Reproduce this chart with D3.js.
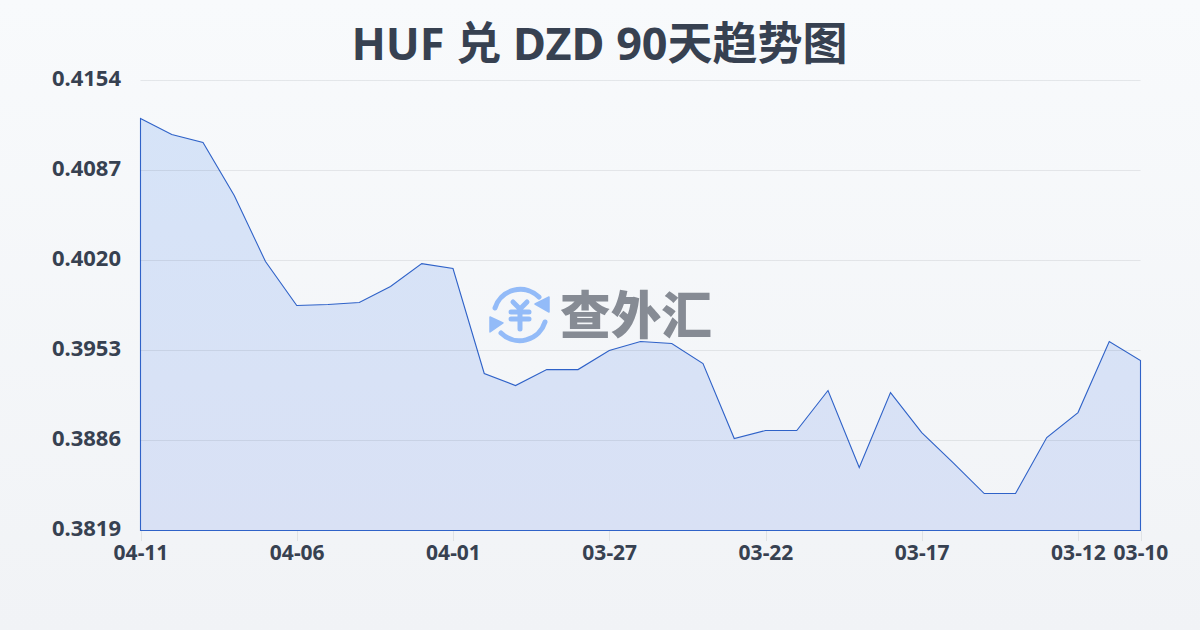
<!DOCTYPE html>
<html><head><meta charset="utf-8">
<script src="https://cdn.jsdelivr.net/npm/d3@7/dist/d3.min.js"></script>
<style>html,body{margin:0;padding:0;width:1200px;height:630px;overflow:hidden}svg{display:block}</style>
</head><body><svg id="c" width="1200" height="630"></svg>
<script>
const titleText = "HUF 兑 DZD 90天趋势图";
const dates = ["04-11","04-10","04-09","04-08","04-07","04-06","04-05","04-04","04-03","04-02","04-01","03-31","03-30","03-29","03-28","03-27","03-26","03-25","03-24","03-23","03-22","03-21","03-20","03-19","03-18","03-17","03-16","03-15","03-14","03-13","03-12","03-11","03-10"];
const rates = [0.41257,0.41138,0.41078,0.40684,0.40192,0.39865,0.39872,0.39887,0.40006,0.40177,0.4014,0.39359,0.39269,0.39388,0.39388,0.3953,0.39597,0.39582,0.39433,0.38875,0.38934,0.38934,0.39232,0.38659,0.39217,0.38919,0.38696,0.38465,0.38465,0.38882,0.39068,0.39597,0.39455];
const yTicks = [0.4154,0.4087,0.4020,0.3953,0.3886,0.3819];
const xTickLabels = ["04-11","04-06","04-01","03-27","03-22","03-17","03-12","03-10"];
const watermark = "查外汇";

const svg = d3.select("#c");
const defs = svg.append("defs");
const bg = defs.append("linearGradient").attr("id","bg").attr("x1",0).attr("y1",0).attr("x2",0).attr("y2",1);
bg.append("stop").attr("offset",0).attr("stop-color","#f8fafc");
bg.append("stop").attr("offset",1).attr("stop-color","#f1f3f6");
const ag = defs.append("linearGradient").attr("id","ag").attr("gradientUnits","userSpaceOnUse").attr("x1",0).attr("y1",80).attr("x2",0).attr("y2",530);
ag.append("stop").attr("offset",0).attr("stop-color","#d6e4f8");
ag.append("stop").attr("offset",1).attr("stop-color","#d9e1f5");

svg.append("rect").attr("width",1200).attr("height",630).attr("fill","url(#bg)");

const x = d3.scaleLinear().domain([0,dates.length-1]).range([140.5,1140.5]);
const y = d3.scaleLinear().domain([0.3819,0.4154]).range([530.5,80.5]);
const font = "'Noto Sans','Noto Sans CJK SC',sans-serif";
const ink = "#374151";

svg.append("text").attr("x",599.5).attr("y",60).attr("text-anchor","middle")
  .attr("font-family",font).attr("font-weight",700)
  .attr("font-size",45).attr("fill",ink).text(titleText);

const area = d3.area().x((d,i)=>x(i)).y0(y(0.3819)).y1(d=>y(d));
svg.append("path").datum(rates).attr("d",area).attr("fill","url(#ag)")
  .attr("stroke","#2f62c8").attr("stroke-width",1.1).attr("stroke-linejoin","miter");

svg.append("g").selectAll("line").data(yTicks.slice(0,5)).join("line")
  .attr("x1",140.5).attr("x2",1140.5).attr("y1",d=>Math.floor(y(d)+.01)+.5).attr("y2",d=>Math.floor(y(d)+.01)+.5)
  .attr("stroke","#374151").attr("stroke-opacity",.1).attr("stroke-width",1);

svg.append("g").selectAll("text").data(yTicks).join("text")
  .attr("x",121).attr("y",d=>y(d)+5.5).attr("text-anchor","end")
  .attr("font-family",font).attr("font-weight",700).attr("font-size",22).attr("fill",ink)
  .text(d=>d.toFixed(4));

const xi = xTickLabels.map(l=>dates.indexOf(l));
svg.append("g").selectAll("line").data(xi).join("line")
  .attr("x1",d=>Math.round(x(d))+.5).attr("x2",d=>Math.round(x(d))+.5).attr("y1",531).attr("y2",541)
  .attr("stroke","#374151").attr("stroke-opacity",.1);
svg.append("g").selectAll("text").data(xi).join("text")
  .attr("x",d=>x(d)+.5).attr("y",560).attr("text-anchor","middle")
  .attr("font-family",font).attr("font-weight",700).attr("font-size",21).attr("fill",ink)
  .text(d=>dates[d]);

const w = svg.append("g").attr("class","watermark");
const ic = w.append("g").attr("transform","translate(520,315)").attr("fill","none").attr("stroke","#93bbf8").attr("stroke-width",5).attr("stroke-linecap","round");
ic.append("path").attr("d","M-25,-7 A26.5,26.5 0 0 1 19,-18");
ic.append("path").attr("d","M25,7 A26.5,26.5 0 0 1 -19,18");
ic.append("path").attr("d","M29,-18 L29,-3 L15,-11 Z").attr("fill","#93bbf8").attr("stroke","#93bbf8").attr("stroke-width",1.5).attr("stroke-linejoin","round");
ic.append("path").attr("d","M-30,2 L-30,17 L-17,8 Z").attr("fill","#93bbf8").attr("stroke","#93bbf8").attr("stroke-width",1.5).attr("stroke-linejoin","round");
ic.append("path").attr("d","M-7,-13 L0,-6 L7,-13 M-9,-3 H9 M-9,4 H9 M0,-6 V14").attr("stroke-width",5);
w.append("text").attr("x",636).attr("y",334).attr("text-anchor","middle")
  .attr("font-family","'Noto Sans CJK SC',sans-serif").attr("font-weight",900).attr("font-size",51)
  .attr("textLength",152).attr("lengthAdjust","spacingAndGlyphs").attr("fill","#868b94").text(watermark);
</script></body></html>
